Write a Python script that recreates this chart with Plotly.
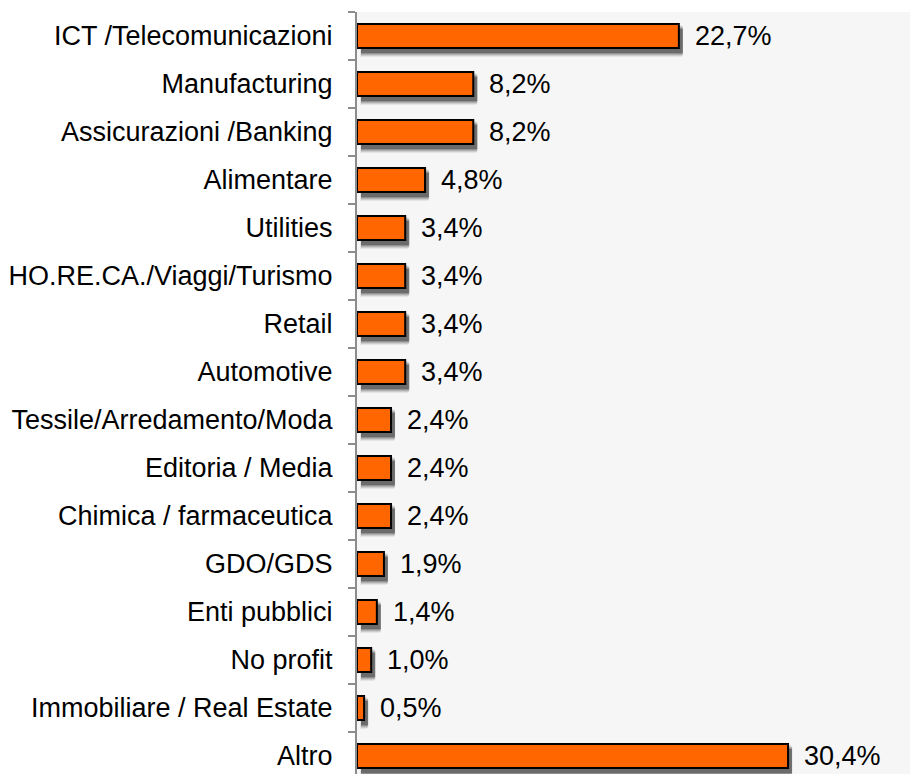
import plotly.graph_objects as go

categories = [
    "ICT /Telecomunicazioni", "Manufacturing", "Assicurazioni /Banking", "Alimentare",
    "Utilities", "HO.RE.CA./Viaggi/Turismo", "Retail", "Automotive",
    "Tessile/Arredamento/Moda", "Editoria / Media", "Chimica / farmaceutica",
    "GDO/GDS", "Enti pubblici", "No profit", "Immobiliare / Real Estate", "Altro",
]
values = [22.7, 8.2, 8.2, 4.8, 3.4, 3.4, 3.4, 3.4, 2.4, 2.4, 2.4, 1.9, 1.4, 1.0, 0.5, 30.4]
labels = [f"{v:.1f}".replace(".", ",") + "%" for v in values]

W, H = 910, 774
ML, MT = 357, 12
XMAX = 39.0
px_per_x = (W - ML) / XMAX
slot = 48.0
bar_w = 0.5
FONT = "Liberation Sans, Arial, sans-serif"

fig = go.Figure()

# soft shadow layers
for dx, dy, grow, op in [(3, 5, 4, 0.08), (4, 5, 3, 0.12), (4, 5, 2, 0.16), (4, 5, 1, 0.22), (4, 5, 0, 0.32)]:
    fig.add_trace(go.Bar(
        y=categories, x=values, orientation="h",
        base=dx / px_per_x,
        width=bar_w + 2 * grow / slot,
        offset=-(bar_w / 2) - grow / slot + dy / slot,
        marker=dict(color=f"rgba(30,30,30,{op})", line=dict(width=0)),
        hoverinfo="skip", showlegend=False,
    ))

fig.add_trace(go.Bar(
    y=categories, x=values, orientation="h",
    width=bar_w,
    marker=dict(color="#FF6600", line=dict(color="#000000", width=2)),
    showlegend=False,
))

for c, v, t in zip(categories, values, labels):
    fig.add_annotation(x=v, y=c, text=t, showarrow=False, xanchor="left",
                       yanchor="middle", xshift=14,
                       font=dict(family=FONT, size=27, color="#000"))

fig.update_layout(
    width=W, height=H,
    margin=dict(l=ML, r=0, t=MT, b=0, pad=0),
    paper_bgcolor="white", plot_bgcolor="#F6F6F6",
    barmode="overlay",
    font=dict(family=FONT, size=27, color="#000"),
    xaxis=dict(visible=False, range=[0, XMAX], fixedrange=True),
    yaxis=dict(
        type="category", categoryorder="array", categoryarray=categories,
        range=[-0.5 + (H - MT) / slot, -0.5],
        showline=True, linecolor="#8C8C8C", linewidth=2,
        ticks="outside", tickson="boundaries", ticklen=7, tickwidth=2, tickcolor="#8C8C8C",
        showgrid=False, zeroline=False,
        ticklabelstandoff=17,
        tickfont=dict(size=27, color="#000"),
    ),
)

fig.write_html(
    "out.html",
    config={"displayModeBar": False},
    post_script="document.body.style.margin='0';document.body.style.overflow='hidden';",
)
